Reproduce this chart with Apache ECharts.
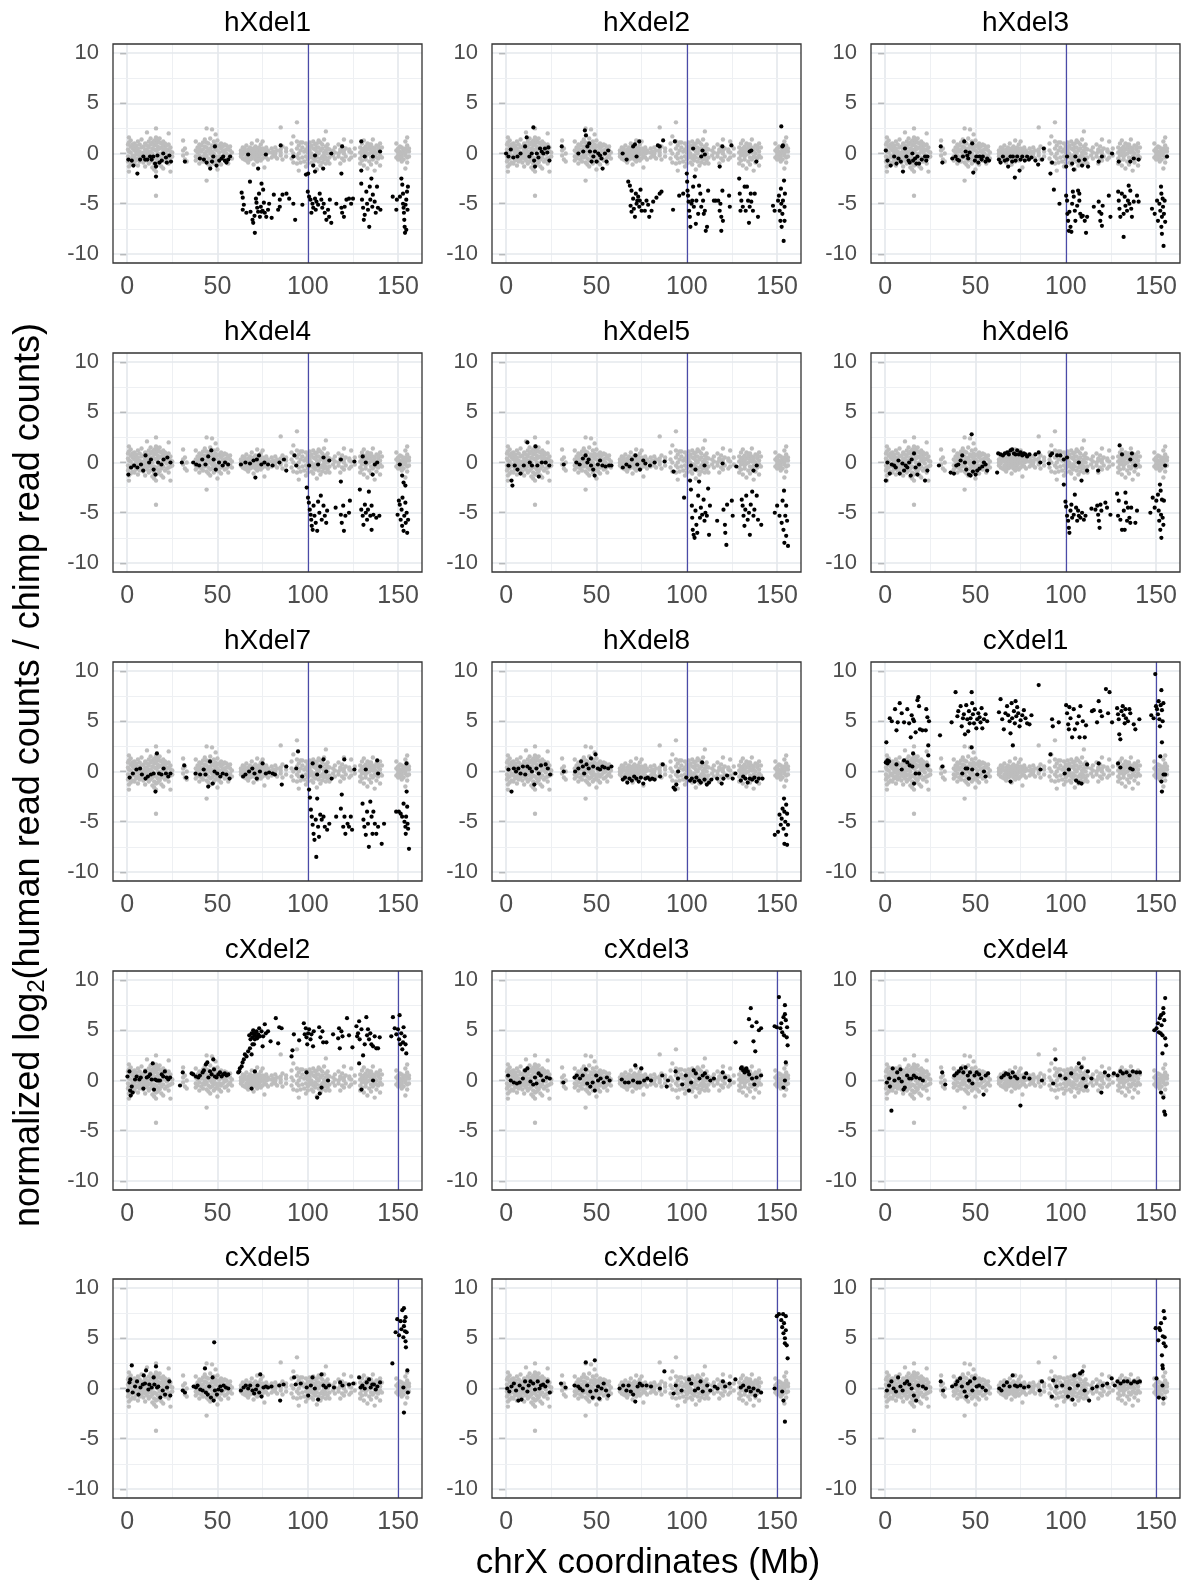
<!DOCTYPE html>
<html lang="en" style="height: 100%">
<head>
<meta charset="utf-8">
<title>chrX read count ratios</title>
</head>
<body style="height: 100%; margin: 0; background: #fff">
<div id="container" style="width: 1184px; height: 1583px"></div>
<script type="text/javascript" src="https://cdn.jsdelivr.net/npm/echarts/dist/echarts.min.js"></script>
<script type="text/javascript">

var panelNames = ['hXdel1', 'hXdel2', 'hXdel3', 'hXdel4', 'hXdel5', 'hXdel6', 'hXdel7', 'hXdel8',
    'cXdel1', 'cXdel2', 'cXdel3', 'cXdel4', 'cXdel5', 'cXdel6', 'cXdel7'];
var breakpoints = [100, 100, 100, 100, 100, 100, 100, 100, 150, 150, 150, 150, 150, 150, 150];
var xTicks = [0, 50, 100, 150];
var yTicks = [-10, -5, 0, 5, 10];
var xMinor = [25, 75, 125];
var yMinor = [-7.5, -2.5, 2.5, 7.5];

// background (gray) points, shared by every panel: [position, [values]]
var grayColumns = [
    [0.5, [0.4, -0.3, 0.9, -0.8]], [1, [1.6, -1.8, 0.2, -0.6, 1.1, -1.3]], [2, [0.7, -0.5, 0.1, -1.1, 1.3]],
    [3, [-0.2, 0.5, -0.9, 0.9]], [4, [0.3, -0.4, 1.0, -1.0, 0.6]], [5, [-0.1, 0.8, -0.7, 0.2]],
    [6, [0.5, -0.5, 1.2, -1.2, 0.0]], [7, [0.2, -0.3, 0.9, -0.8]], [8, [0.6, -0.6, -0.1, 1.4]],
    [9, [0.1, -0.9, 0.7, -0.3]], [10, [0.4, -0.5, 1.0, -1.3, 0.0]], [11, [2.1, 0.3, -0.7, 0.8, -0.2]],
    [12, [0.6, -0.4, 1.2, -1.0, 0.1]], [13, [0.9, -0.8, 0.2, -0.3, 1.5]], [14, [0.5, -0.6, 1.1, -1.4, 0.0]],
    [15, [1.3, -1.0, 0.4, -0.4, 0.8, -1.6]], [16, [2.5, -4.2, 1.0, -1.2, 0.3, -0.5, 1.6, -1.8]],
    [17, [0.7, -0.7, 1.3, -1.1, 0.0, 0.4]], [18, [1.1, -0.9, 0.5, -0.3, 1.5]], [19, [0.6, -0.6, 0.0, -1.3, 1.0]],
    [20, [1.2, -1.5, 0.3, -0.4, 0.8]], [21, [0.5, -0.8, 0.1, 1.0]], [22, [0.8, -0.6, -0.1, 0.3]],
    [23, [2.0, 0.4, -0.5, 0.9, -1.0]], [24, [0.2, -1.8, -0.4, 0.6]], [25, [0.1, -0.3]],
    [31, [1.3, -0.2, 0.3]], [32, [-0.6, 0.5]], [33, [0.0, -0.8]],
    [38, [1.2, -0.3, 0.3, -0.7]], [39, [0.6, -0.5, 0.1]], [40, [0.9, -1.0, 0.3, -0.2, 0.5]],
    [41, [-0.6, 0.2, 0.8]], [42, [1.1, -0.8, 0.4, -0.3]], [43, [0.7, -0.4, 0.0, 1.4]],
    [44, [2.5, -2.7, 0.6, -0.9, 0.2, -0.2, 1.1]], [45, [1.0, -1.1, 0.3, -0.5]], [46, [1.5, -0.7, 0.5, 0.0, -1.3]],
    [47, [2.4, 0.8, -0.6, 0.2, -0.2]], [48, [1.2, -1.0, 0.6, -0.4, 0.0]], [49, [1.9, 0.4, -0.8, 0.9, -0.3]],
    [50, [1.3, -1.6, 0.3, -0.6, 0.7]], [51, [0.8, -0.9, 0.1, -0.3]], [52, [0.5, -0.5, 1.0, -1.1]],
    [53, [0.2, -0.3, 0.7]], [54, [0.9, -0.7, 0.3, -0.1]], [55, [0.4, -0.6, 0.0, 0.8]],
    [56, [0.6, -0.4, -1.0]], [57, [0.3, -0.2, 0.7]], [58, [0.1, -0.5]],
    [63, [0.3, -0.3, 0.0]], [64, [0.6, -0.5, 0.1, -0.1]], [65, [0.2, -0.6, 0.5]],
    [66, [0.8, -0.3, -0.7, 0.1]], [67, [0.4, -0.4, 0.0, -0.9]], [68, [0.6, -0.2, 0.2, -0.6]],
    [69, [1.0, -0.5, 0.3, -0.1]], [70, [0.5, -1.1, 0.1, -0.3]], [71, [0.7, -0.6, 0.2, -0.2]],
    [72, [1.3, -0.4, 0.4, 0.0, -0.8]], [73, [0.6, -0.3, 0.1, -0.6]], [74, [0.9, -0.7, 0.3, -0.1]],
    [75, [1.2, -0.5, 0.5, 0.0]], [76, [0.4, -1.4, -0.3, 0.2]], [77, [0.6, -0.4, 0.0]],
    [78, [0.3, -0.6, 0.1]], [80, [0.5, -0.4, 0.1]], [81, [0.2, -0.2]], [82, [0.6, -0.3, 0.0]],
    [83, [0.3, -0.5]], [85, [2.6, 0.4, -0.2, 0.1]], [86, [0.7, -0.6]], [88, [0.2, -0.3, 0.5]],
    [91, [1.0, -0.5, 0.3]], [92, [1.7, -0.9, 0.0]], [94, [3.1, 1.2, -0.3, 0.5, -1.0]],
    [95, [0.8, -1.7, 0.0, -0.5]], [96, [1.1, 0.3, -0.9]], [97, [0.6, -0.4, 1.1]], [98, [0.2, -0.8]],
    [99, [1.0, -1.3, 0.4, -0.3]], [100, [0.7, -0.6, 0.1, -1.0]], [101, [1.1, -0.4, 0.3, -0.1, 0.6]],
    [102, [0.8, -0.9, 0.0, -0.3]], [103, [1.2, -0.5, 0.5, -1.1]], [104, [0.4, -0.7, 0.9, -0.2]],
    [105, [1.0, -1.6, 0.2, -0.4, 0.6]], [106, [0.6, -0.8, 1.3, 0.0]], [107, [1.1, -0.5, 0.3, -1.2]],
    [108, [0.5, -0.3, 0.9, -0.9]], [109, [1.4, -0.6, 0.1, -0.2]], [110, [2.2, 0.7, -1.0, 0.3, -0.4]],
    [111, [0.9, -0.7, 0.0, 0.5]], [112, [0.4, -0.4, -1.0]], [114, [0.3, -0.2]], [115, [0.6, -0.5, 0.1]],
    [117, [0.9, -0.3, 0.0]], [118, [0.4, -1.0, 0.2]], [119, [0.7, -0.5]], [120, [1.4, 0.3, -0.7, 0.0]],
    [121, [0.5, -0.3]], [123, [0.2, -0.6, 0.4]], [124, [1.2, -0.4, 0.1]], [126, [0.5, -0.2]],
    [129, [0.6, -0.5, 0.1, -1.0]], [130, [1.0, -0.7, 0.3, -0.2]], [131, [1.3, -1.2, 0.5, 0.0]],
    [132, [0.7, -0.6, 0.2, -0.3]], [133, [1.0, -1.5, 0.4, -0.1]], [134, [0.6, -0.8, 0.0, 0.9]],
    [135, [0.9, -1.1, 0.3, -0.4]], [136, [1.4, -0.6, 0.1, 0.6]], [137, [0.5, -1.7, -0.3, 0.2]],
    [138, [0.8, -0.9, 0.0, -0.4]], [139, [0.4, -0.5, 0.7]], [140, [1.0, -1.2, 0.2, -0.2]],
    [141, [0.6, -0.4]], [149, [0.3, -0.4, 1.0]], [150, [0.5, -0.2, 0.1, -0.6]],
    [151, [0.2, -0.5, 0.7, -0.1]], [152, [0.6, -0.3, 0.0, -0.8]], [153, [0.3, -0.6, 0.4, 0.1]],
    [154, [1.2, -1.5, 0.5, -0.2, 0.0]], [155, [1.6, 0.3, -0.4, 0.8, -0.9]], [156, [0.2, -0.3, 0.5]]
];

var hXdel1 = [[0.7,-0.6],[2.6,-0.7],[3.5,-1.2],[5.7,-2.0],[7.2,-0.6],[9,-0.3],[10,-0.6],[11.2,-0.6],[12.7,-0.3],[13.6,-0.6],[14.5,-0.3],[15.5,-1],[16,-1.3],[16,-2.3],[16.8,-0.2],[17.9,-0.9],[19.2,-0.7],[20,0],[21.5,-0.4],[22,-0.9],[23.4,-0.2],[24.3,-0.8],[32,-0.8],[40.3,-0.5],[42.5,-0.6],[44,-0.9],[46,-1.5],[47,-0.8],[47.7,-0.3],[48.6,0.7],[49.5,-1.2],[51,-0.7],[52.3,-0.5],[53.2,-0.3],[54.1,-0.7],[55,-0.9],[56,-0.6],[57,-0.3],[67,-0.1],[72.5,-1.5],[76.8,-0.1],[85,0.8],[92,-0.3],[99,-2.1],[100.2,-2],[104,-0.2],[103,-1.2],[104,-1.8],[108.5,-1.5],[113,0],[118.6,-2],[119,0.7],[129.6,1.2],[129.6,-1.7],[131.5,-0.3],[136,-0.3],[140,0.2],
    [63.4,-3.9],[64,-4.4],[64,-5.6],[64.6,-5.1],[66,-5.9],[68,-2.8],[68.3,-5.8],[69.4,-6.6],[69.8,-6.9],[70.5,-6.2],[70.7,-7.9],[71.3,-4.5],[71.6,-4.9],[72,-5.4],[72.5,-5.8],[73,-4],[73.5,-6.3],[74,-5.3],[74.4,-3],[74.4,-5.8],[75,-5.7],[75.3,-3.6],[75.7,-4.9],[76.2,-5.9],[77,-6.3],[78,-5.6],[78.6,-5],[80,-6.4],[81.2,-4.1],[83.6,-5.6],[84.5,-4.6],[84.5,-5.3],[86,-4.1],[88.2,-4],[89.7,-4.5],[92,-5],[93,-6.6],[97,-5.1],
    [100,-3.8],[100.7,-4.3],[101.5,-4.6],[102,-5.9],[102.6,-5],[103,-5.4],[104,-4.5],[104.4,-5.6],[104.8,-4.8],[105.7,-5.1],[106.6,-4],[107.5,-4.6],[108,-5.4],[108.8,-5],[109.4,-5.9],[110.3,-6.6],[111.2,-5.6],[111.8,-6.3],[112.2,-4.6],[113,-6.9],[115.8,-5],[118.6,-5.4],[119,-5.9],[120,-6.3],[120.4,-5.3],[121.4,-4.6],[122.8,-4.5],[124,-5],[125,-4.5],
    [129.6,-3],[130,-4.6],[130.6,-5.4],[131,-6.6],[131.5,-6.1],[132.4,-3.8],[132.8,-5],[133.3,-5.6],[134,-7.3],[134.3,-3.3],[134.6,-4.6],[135.2,-2.5],[135.7,-5.3],[136,-4.1],[137,-4.8],[137.6,-5.9],[138.3,-3.3],[138.8,-5.4],[140.2,-5.6],
    [147,-4.3],[149,-5.6],[149.3,-4.6],[151,-4.3],[151.8,-2.5],[152.3,-3.1],[152.7,-4],[152.7,-5],[153,-5.4],[153.2,-5.9],[153.4,-6.6],[153.6,-7.3],[153.8,-7.9],[154.1,-5.1],[154.5,-4.6],[154.9,-3.8],[155.2,-5.6],[155.4,-3.3],[154.5,-7.6]];

var hXdel2 = [[0,0],[1.3,-0.3],[2.6,0.4],[4,-0.4],[6.3,-0.3],[8,0],[10.5,0.7],[11.4,1.6],[12.9,-0.3],[14.2,0],[15.1,2.6],[15.5,-0.7],[16,-1.3],[17,0],[17.9,-0.4],[18.8,0.5],[19.7,0.2],[20.6,0],[21.5,0.5],[22.8,0.1],[24,-0.7],[23.4,0.6],[30.8,0.7],[40,0],[42.7,0.2],[43.6,2.3],[44.2,1.8],[45,0.7],[46,1],[46.4,0.2],[47.3,-0.8],[48.3,-0.3],[49.2,0.2],[50.1,-0.8],[51,0],[52,-0.2],[52.8,-0.5],[53.4,-1.5],[54.7,0],[55.6,-0.8],[56.5,0.3],[64.5,0],[66.7,-0.6],[70.3,0.7],[71.3,0.9],[72.2,-0.3],[73.7,1.2],[84,0.8],[85,0.7],[86.9,1.3],[93.4,1.2],[103.5,0.5],[108,-0.3],[108.7,0.3],[110,-0.1],[118.2,-1.3],[119.7,0.7],[124.7,0.8],[134.8,0.2],[135.7,0.3],[138.5,-0.8],[152.3,2.7],[152.9,0.7],[153.2,0.8],
    [67.6,-2.8],[68.5,-3.2],[69.4,-3.7],[68.9,-5.2],[69.4,-5.8],[70.3,-4.5],[70.7,-5.5],[71.3,-6.3],[71.8,-4],[72.2,-5],[72.6,-4.7],[73.1,-4.3],[73.7,-5.3],[74,-4.7],[74.4,-3.6],[75,-5.7],[75.5,-5],[76.8,-5.7],[77.7,-4.7],[78.6,-5.1],[79.2,-6.3],[80.5,-5.7],[81.4,-4.8],[83.2,-4.4],[85,-4],[86,-3.8],[92.4,-5.6],[95.8,-4.2],[98,-4],
    [100,-2],[100.2,-2.8],[100.4,-3.7],[100.7,-4.2],[101,-4.8],[101.3,-5.7],[101.7,-6.3],[102,-7.3],[102.6,-5],[103,-4.7],[103.5,-3.3],[103.9,-5.3],[104.4,-2.3],[105,-7],[105.3,-4.7],[106.3,-6],[106.8,-3.2],[107.5,-4],[108,-5.3],[109,-4.7],[109.4,-6],[110,-5.7],[110.5,-7.7],[111.2,-7.3],[111.8,-3.7],[115,-4.7],[116,-4.7],[117.4,-4.7],[118.2,-5.7],[118.6,-5],[119.1,-6.3],[119.1,-7.7],[119.7,-3.7],[120,-6.7],[123.4,-4.2],[123.8,-5.3],
    [129,-2.5],[129.3,-4],[129.7,-5.7],[130.2,-4.7],[131,-5.3],[132,-3.3],[132.6,-5.7],[133.3,-3.3],[133.9,-4.7],[134.4,-6.9],[134.8,-5.3],[135.4,-4],[135.7,-4.8],[136.6,-5.7],[137.6,-4],[139.4,-6.3],
    [147.7,-5.2],[148.6,-5.7],[150.5,-4.7],[151,-4.2],[151.4,-5.7],[151.8,-6.7],[152.1,-3.5],[152.3,-5],[152.5,-7.3],[152.9,-6],[153.2,-4.7],[153.6,-8.7],[153.8,-2.7],[154.1,-5.3],[154.3,-4],[154.1,-6.7]];

var hXdel3 = [[0.4,0.3],[1.3,-0.7],[3.1,-1.2],[5,-0.3],[6.3,-1],[7.4,-0.5],[8.7,-0.8],[9.9,-1.8],[11,0.5],[11.8,-0.3],[13,-0.7],[13.6,-0.9],[15.1,0],[15.5,-0.7],[16.6,-0.5],[17.3,-1],[17.9,-0.3],[18.8,-1],[20.3,-0.6],[22.1,-0.3],[22.8,-0.7],[23.4,-0.3],[30.8,0.7],[31.7,-0.9],[37.2,-0.5],[39,-0.3],[40,-0.6],[40.9,-0.7],[43.1,-0.3],[43.8,1.2],[44.6,0.2],[45.5,-0.2],[46,-0.5],[46.8,0.1],[48.2,1],[48.8,-1.9],[49.7,-0.7],[50.5,-0.3],[51.6,-0.9],[52.3,-0.3],[53.4,-0.6],[54.1,-0.3],[55.6,-0.8],[56.5,-0.5],[57.5,-0.7],
    [63,-0.6],[63.9,-0.9],[65.2,-0.3],[66.3,-0.7],[67.6,-0.6],[68.1,-1.3],[69.4,-0.3],[70.3,-0.8],[70.7,-0.3],[71.8,-2.4],[72.2,-0.7],[73.1,-0.3],[74.4,-1.7],[75,-0.6],[75.9,-0.3],[77.3,-0.7],[78.6,-0.3],[79.6,-0.6],[81,-0.4],[83.2,-0.7],[84.7,-1.1],[86.9,-0.6],[87.8,0.5],[91.5,-2],[93.4,-3.6],[92.4,-0.9],[96.5,-5],[100.2,-1.3],[100.7,-0.3],[103.5,-1],[104.4,-1.6],[105.3,-0.3],[107.2,-0.7],[109,-1.2],[110.5,-0.6],[112.3,-1.3],[118.2,-0.8],[120,-0.3],[125.6,0],[129.3,-0.8],[135.7,-0.8],[137.6,-0.5],[140.3,-0.6],[156,-0.3],
    [100.2,-4.2],[100.7,-4.7],[100.9,-6],[101.3,-6.7],[101.7,-7.7],[102,-5.8],[102.6,-7.3],[103.1,-7.8],[103.5,-5],[103.9,-3.8],[104.4,-4.3],[105,-5.7],[105.3,-6.7],[106.3,-5.2],[106.8,-3.7],[107.5,-4],[107.5,-4.7],[108,-6],[108.7,-6.3],[109.4,-6.2],[110.5,-6.7],[111.2,-7.9],[111.8,-6.3],[115.5,-5.3],[118.2,-4.8],[118.6,-5.8],[119.1,-6.7],[119.7,-6],[120,-7.2],[120.4,-5.2],[123.8,-4.2],[124.7,-6.3],
    [129,-3.8],[129.3,-4.7],[129.7,-5.5],[130.2,-6.3],[131,-4],[132,-6],[132,-8.3],[132.6,-4.3],[133,-5.2],[133.9,-5.7],[134.4,-4.7],[134.8,-3.2],[135.2,-5],[135.7,-3.7],[136.2,-5.5],[136.6,-6.3],[137.6,-4.8],[139.4,-4.2],[140.3,-4.8],
    [147.7,-5.5],[149.2,-6],[150.5,-4.7],[151,-6.7],[151.8,-5],[152.3,-5.7],[152.7,-3.3],[152.9,-4],[152.9,-7.3],[153.2,-8],[153.2,-6.3],[153.6,-4.5],[153.8,-5.3],[154.1,-9.2],[154.3,-6],[154.7,-4.7],[155,-6.8]];

var hXdel4 = [[0.7,-1.2],[2.2,-0.5],[3.9,-0.3],[5.7,-0.5],[7.7,-0.2],[8.9,-0.8],[10.2,0.7],[12.2,0],[13.2,0.3],[14.7,-0.7],[15.7,-1.2],[17.2,0],[19,-0.2],[20.2,0.3],[22.3,0.5],[24,0],[30.3,0],[36.6,0],[38.3,-0.2],[39.9,-0.3],[41.6,0.3],[43.4,-0.2],[44.9,0.6],[46.6,1.2],[47.9,0.3],[49.1,-0.7],[50.9,0],[52.9,-0.3],[54.2,0],[55.9,-0.2],
    [63,-0.2],[65.5,0],[68,-0.1],[70,0.2],[71,-1.5],[71.8,0.3],[73,0.7],[74.3,-0.2],[76,0],[78,-0.2],[80.5,-0.3],[84.3,0],[86.8,0.3],[88.1,-0.8],[92.6,0.7],[93.6,-0.3],[100.7,-0.3],[105.7,-0.2],[108.7,0.5],[111.9,0.2],[118.3,0.3],[118.3,-1.9],[125.8,0.1],[130.4,0.6],[132.1,0],[135.9,-1.2],[137.1,-0.2],[138.4,0],[150.9,-0.2],[152.2,-1.3],[153,-2],[154,-2.3],
    [99.4,-2.5],[100.1,-3.5],[100.6,-4],[101.1,-4.7],[101.6,-5.2],[101.9,-5.7],[102.2,-6.3],[102.7,-6.7],[103.2,-4.3],[103.7,-5.3],[104.4,-6],[105.2,-6.8],[105.7,-3.9],[106.4,-5],[107.2,-3.3],[107.7,-5.7],[108.7,-4.3],[109.4,-5.3],[110.2,-6],[110.7,-4.8],[115.4,-4.5],[118.3,-5.2],[118.8,-6],[119.6,-4.3],[120,-6.8],[120.8,-5.3],[122.8,-5],[123.3,-3.8],
    [128.8,-2.7],[129.6,-4.7],[130.4,-5.3],[130.8,-6.2],[131.6,-4.2],[132.1,-5],[132.8,-5.7],[133.3,-4.7],[133.8,-2.9],[134.6,-5.3],[135.3,-4.3],[135.3,-6.7],[136.3,-5.2],[137.9,-5.5],[139.6,-5.3],
    [149.7,-5.2],[150.4,-3.8],[150.9,-4.2],[151.4,-5.7],[151.9,-4.7],[152.2,-6.3],[152.4,-3.5],[153,-6.8],[153.4,-5.3],[154,-4],[154.2,-6],[154.7,-5],[155,-7],[155.5,-5.7]];

var hXdel5 = [[1.3,-0.3],[3,-1.8],[3.5,-2.3],[4.8,-0.3],[6.3,-0.7],[8,-1.1],[9.8,-0.3],[11.8,2],[13.1,0],[14.3,-0.3],[16.3,1.6],[17.3,-0.3],[18.1,-1.4],[19.8,0],[21.9,0],[23.9,-0.3],[31.9,-0.2],[38.9,0],[40.7,-0.2],[42.5,0.4],[44,0.7],[45,0],[45.7,0.3],[47,-0.3],[48.2,-0.7],[49,-1.3],[50.8,-0.2],[52,0.2],[53.3,-0.3],[55,-0.4],[57,-0.3],[58.3,-0.3],
    [64.6,-0.5],[66.6,-0.2],[68.3,-0.4],[69.6,0.3],[71.6,0.7],[72.6,-0.2],[74.1,-0.7],[75.9,0.2],[77.1,-0.1],[79.6,-0.3],[82.2,0],[87.7,0.1],[92.7,-0.9],[98.5,-3.5],[102.3,-0.3],[104.8,-0.7],[106.8,-1.9],[109.8,-0.3],[119.8,-0.1],[127.4,-0.4],[136.9,-0.8],[138.7,-0.3],
    [101.8,-1.8],[102.3,-2.7],[102.8,-4.3],[103,-5.5],[103.3,-6.7],[103.8,-7.2],[104.3,-7.5],[104.8,-4.8],[105.3,-6.2],[105.8,-7],[106.3,-3.3],[107.3,-5.5],[107.8,-4.5],[108.5,-5.2],[109.3,-3.7],[109.8,-5.8],[110.3,-5],[111.1,-5.3],[111.8,-2.6],[112.3,-7.2],[112.8,-4.3],[116.8,-5.8],[120.3,-4.7],[121.1,-6.2],[121.3,-7],[121.9,-8.2],[122.3,-4.2],[124.9,-3.8],[125.4,-5.3],
    [130.4,-3.7],[130.9,-4.3],[131.4,-5.3],[131.9,-6.3],[132.4,-4.7],[132.9,-3.3],[133.7,-5.7],[134.4,-5],[134.9,-7.2],[135.4,-4.2],[136.2,-2.9],[136.9,-5.3],[137.4,-4.7],[138.7,-3.3],[139.4,-5.7],[141.2,-6.2],
    [148.7,-5],[150,-4.3],[151.3,-5.3],[152.5,-6],[153,-3.8],[153.5,-6.7],[153.8,-2.8],[154,-8],[154.5,-5.3],[155,-4.3],[155,-7.3],[155.5,-5.8],[156,-8.3]];

var hXdel6 = [[0.4,-1.8],[1.3,0],[2.6,-1.1],[3.7,-0.2],[5,-0.3],[5.9,-0.5],[7.4,0.2],[8.1,-1.1],[9.6,-0.1],[10.5,-0.8],[11.4,-0.3],[12.3,-0.5],[13.3,0],[14.2,-1.3],[14.7,0.3],[16,0.9],[16.9,-0.5],[17.9,-1.2],[18.8,-0.2],[22.1,-1.8],[23.4,-0.8],[29.8,-0.3],[36.3,-1],[38.1,-1.1],[39.4,-0.3],[40.5,-0.2],[41.8,0.2],[42.7,0.7],[44.2,0],[44.9,-0.7],[46.4,-1.2],[47.3,-1.3],[47.9,2.8],[48.6,-0.9],[49.2,0],[50.1,-1.2],[51,-0.8],[52.3,-0.6],[53.8,-0.4],[54.7,0],[55.6,-0.2],[56.5,-0.8],
    [62.6,0.9],[63.9,0.8],[65.2,0.7],[66.3,0.9],[67.6,1],[68.5,0.8],[69.4,1.2],[70.3,1.3],[71.3,0.9],[72.2,0.8],[73.1,1.2],[74,0.8],[75,1],[75.9,0.7],[76.8,0.9],[77.7,0.8],[78.6,0.6],[79.9,0.8],[62,-1],[83.2,0.8],[85,1],[85.9,0],[90.6,-0.1],[91.5,0.7],[92.4,0.9],[95.2,0.7],[97,0.7],[98.9,0.3],[100.7,0.5],[107.2,0],[111.8,-0.8],[117.9,-0.8],[129.8,1.7],[131.1,0.8],[135.7,0.3],[136.6,0.9],[138.5,-0.3],[155,-0.3],
    [98.9,-2.2],[99.8,-3.9],[100.2,-4.4],[100.7,-5.3],[101.3,-5.8],[101.7,-6.5],[102,-7],[102.6,-4.8],[103.1,-4.2],[103.5,-5.5],[104.4,-5.2],[105,-3.2],[105.7,-4.5],[106.3,-5.8],[106.8,-4.8],[107.2,-5.3],[108.1,-5.5],[108.7,-1.8],[109,-5],[110,-5.7],[110.9,-5.3],[114.2,-4.6],[116.4,-4.7],[117.4,-4.3],[117.9,-5.2],[118.3,-5.8],[118.7,-6.5],[119.2,-4.2],[119.7,-4.8],[121.9,-4],[122.8,-4.5],[124.7,-5.2],
    [128.4,-3.1],[128.9,-5.3],[129.3,-3.8],[130.2,-5.7],[131.1,-6.7],[132.1,-4.8],[132.6,-6.7],[133,-3],[133.3,-4],[133.9,-5.8],[134.4,-4.5],[135.2,-5.5],[135.7,-6],[136.2,-4.5],[138.5,-6],[139.4,-4.8],
    [146.8,-5],[148.1,-3.5],[149.2,-4.5],[150.1,-3.8],[151,-3.2],[151.4,-4.8],[151.7,-5.8],[152.1,-2.2],[152.3,-6.7],[152.5,-2.8],[152.7,-5.2],[152.9,-7.5],[153.2,-3.7],[153.6,-5.5],[154,-6.2],[154.3,-3.8]];

var hXdel7 = [[1.4,-0.6],[3.2,-0.2],[5.2,0.2],[7.2,0.3],[8.2,-0.3],[10.2,-0.7],[11.5,-0.5],[13.2,-0.3],[14.7,-0.2],[15.7,-2],[16.5,1.8],[17.7,-0.2],[19,-0.3],[20.2,0.3],[21.5,-0.2],[22.8,-0.5],[24,-0.2],[31.6,0.6],[32.8,-0.6],[37.9,-0.2],[40.4,-0.3],[42.4,0.2],[43.4,-0.3],[44.9,-1.5],[45.9,1],[47.4,-1.2],[48.4,0],[49.9,-0.2],[51.6,-0.5],[52.9,-0.2],[54.9,-0.3],[56.7,-0.7],
    [64.2,-0.5],[65.5,-0.3],[67.5,0],[69.3,0.3],[70.5,-0.2],[71.8,-0.7],[73.5,0],[75,0.8],[76.8,-0.2],[78.6,-0.1],[80.6,-0.2],[81.8,-0.3],[85.6,-1.3],[88.1,0.5],[93.6,0.3],[94.6,2],[96.9,-0.5],[102.7,0.8],[105.2,-0.3],[106.9,0.5],[108.7,1.2],[110.2,0],[113.2,-0.7],[120.2,1.2],[125.8,0.2],[132.1,0.2],[138.4,1.1],[138.9,-0.2],[154.6,0.8],
    [100.7,-1.8],[101.2,-2.6],[101.7,-3.8],[102.2,-4.5],[102.7,-5.3],[103.2,-6.2],[103.7,-6.8],[104.4,-4.8],[104.7,-8.5],[105.2,-2.7],[105.7,-5.5],[106.2,-6.5],[106.9,-4.3],[107.7,-4.8],[108.7,-4.5],[109.4,-5.5],[110.7,-5.8],[111.9,-5.2],[115.7,-4.5],[118.3,-3.7],[118.8,-2.3],[119.6,-5.5],[120.3,-4.5],[120.8,-6.2],[122,-5.2],[122.8,-5.5],[123.8,-4.5],[124.5,-5.8],
    [130.3,-3.2],[130.8,-4.8],[131.3,-5.5],[132.1,-6.3],[132.8,-4],[133.3,-5.2],[133.8,-7.5],[134.6,-3],[135.3,-4.5],[135.8,-6.2],[136.3,-4],[137.1,-5.2],[137.9,-6.2],[138.9,-5.5],[140.9,-7.2],[142.2,-5.2],
    [148.9,-4],[150.4,-4],[151.4,-4.2],[152.2,-4.5],[153,-3.2],[153.5,-5],[154,-5.5],[154.2,-6.2],[154.7,-2],[155,-3.5],[155.5,-5.7],[156,-7.7],[154.4,-4.5],[155.2,-5.2]];

var hXdel8 = [[1.3,0.2],[3,-2],[4.3,0.3],[5.5,0],[6.8,0.3],[8,-0.2],[9.3,0.5],[10.6,-0.3],[11.8,0.5],[13.1,0.3],[14.3,0],[15.6,-1.3],[16.8,0.3],[18.1,-0.2],[19.3,0.6],[21.9,0.7],[23.1,0.3],[24.4,-0.3],[31.9,0],[38.2,0],[40,0.3],[41.5,1],[42.5,0.5],[43.2,-0.2],[44.5,0.7],[45.7,0.3],[47,1.3],[48.2,0.5],[49.5,1.7],[50.8,0.3],[52,0.2],[53.3,0.5],[54.5,0.4],[56.5,0.3],[58.3,0.5],
    [64.6,-0.8],[65.8,-0.6],[67.1,-1.1],[68.3,-0.7],[69.6,-0.9],[70.9,-0.5],[72.1,-0.7],[73.4,-1],[74.6,-0.6],[75.9,-1.2],[77.1,-0.7],[78.4,-0.6],[79.6,-0.8],[80.9,-0.7],[82.2,-0.8],[85.2,-0.5],[86.7,0.7],[92.7,-1.6],[93.5,-1.8],[94.2,-1.3],[95.2,0],[99.7,-0.6],[101.8,-0.9],[102.8,-0.7],[104.3,-1],[105.3,-0.6],[106.8,-0.9],[107.8,-1.1],[108.5,0.9],[109.8,-0.8],[111.1,-1.3],[112.3,-1.1],[113.6,-0.8],[116.8,-0.7],[119.3,-1.2],[120.3,-0.7],[122.3,-0.4],[125.4,-0.7],[126.9,-0.2],[129.9,-0.9],[131.2,-0.5],[132.4,-0.7],[133.7,-1.1],[134.9,-0.7],[136.2,-0.8],[137.4,-0.6],[138.7,-1],[139.9,-0.7],[141.9,-0.7],
    [148.7,-6.3],[150.5,-6],[151.3,-4.3],[152,-5.3],[152.5,-4.7],[153,-3.7],[153.5,-5.7],[153.8,-2.7],[154,-7.2],[154.5,-5],[155,-3.3],[155,-6.3],[155.5,-4.2],[156,-5.3],[155.5,-7.3],[154,-4]];

var cXdel1 = [[0.7,2.9],[1.3,1.1],[1.8,1],[2.6,5.3],[3.7,5],[5.5,6.2],[6.3,4.1],[7,4.9],[8.1,6.8],[9.2,5.8],[10.5,4.9],[12.3,6.2],[13.3,4.8],[14.2,3.4],[14.7,5.6],[15.5,5.2],[16,5],[16.9,3.9],[17.9,7.1],[18.4,7.4],[18.8,6.5],[19.3,4.2],[20.6,4.1],[22.5,4.1],[22.8,6.2],[23.4,5.4],[23.9,2.6],[24.3,5],[30.4,3.6],
    [36.8,4.9],[39,7.9],[40,5.5],[40.5,6],[41.8,6.5],[42.4,4.5],[43.1,5.3],[43.6,5.7],[44.2,3.7],[44.9,6.6],[45.5,5.2],[46,4],[46.4,6],[46.8,4.8],[47.3,5.3],[47.9,7.9],[48.2,6.8],[48.6,5.7],[49.2,4.8],[49.7,6.2],[50.5,4.3],[51,5.2],[51.6,5.8],[52.3,5.4],[52.8,4.9],[53.4,6.3],[53.8,4.3],[54.7,5.2],[55.6,5.7],[56.5,5],
    [63,5.9],[63.9,7.2],[64.8,5.2],[65.7,4.2],[66.6,5.8],[67.5,6.5],[68.1,5.6],[68.9,5],[69.4,3.8],[70,6.8],[70.3,5.3],[70.7,2.6],[71.3,6],[71.8,4.8],[72.2,7],[72.6,5.5],[73.1,6.4],[73.7,5.8],[74.4,4.5],[75,5.1],[75.9,5.6],[76.8,6.1],[77.7,5.3],[78.6,4.8],[79.9,4.7],[81,5.6],[85,8.6],[92.4,5.2],[92.8,4.5],[96.1,4.9],
    [100.2,6.6],[100.7,5.8],[101.3,4.7],[101.7,4.2],[102,6.4],[102.6,5.3],[103.5,3.4],[104.4,6.2],[105,4.2],[106.3,4.8],[107.2,5.5],[107.6,3.4],[108.1,6.5],[109.4,5],[110.5,3.4],[111.2,4.6],[114.5,6],[115.5,6.1],[117.3,4.9],[118.2,7],[119.1,6],[120,5.5],[122.2,8.2],[123.4,5.8],[124.2,7.9],[125.6,4.9],
    [128.4,6.3],[128.9,5.7],[129.3,5.2],[129.6,3.7],[130.2,3.2],[130.8,6],[131.5,6.5],[132,5.6],[132.6,4.8],[133,6.2],[133.3,5.3],[134.4,5],[135.2,6.2],[135.7,5.8],[137.6,4.7],[138.5,4.2],[140.7,5.2],
    [147.3,5.6],[148.6,5.3],[149.5,9.7],[149.9,6.5],[150.5,6.2],[151,5.7],[151.4,7],[151.8,5.2],[152.1,4.5],[152.5,6.6],[152.9,8.1],[153.2,6.1],[153.6,5],[154,6.8],
    [0.4,0.9],[1.3,0.8],[2.2,1],[6.3,0.7],[9.2,0.2],[10.5,1.1],[12.3,0.9],[13.6,0.6],[15.1,0.5],[15.5,1.8],[16,-1.2],[16.9,-0.2],[18.8,-0.2],[23.4,0.6],[23.9,1.6],[31.7,0.5],[42.7,-0.2],[44.6,0.3],[45.5,0.3],[46.4,-0.7],[47.9,2.4],[48.2,0.2],[51,-0.3],[54.7,0],[55.6,-0.5],[69.4,-1],[86,0.2],[91.5,1.7],[99.4,-0.2],[101.7,0.2],[105.7,-0.9],[107.2,-1.1],[108.7,-1.2],[111.8,0.7],[118.2,0.8],[128.9,0.8],[130.2,0.4],[135.7,0.3],[137,0.2],[152.3,1.5],[152.9,-1],[153.2,-2],[154.1,-0.3],[153.2,2.9],[155,-0.3]];

var cXdel2 = [[0.2,0.4],[1.3,0.9],[1.7,-1],[2,-1.5],[2.6,-0.6],[3.1,-1.2],[4.4,0.1],[5.3,0.4],[6.8,0.1],[7.6,0.3],[9,-0.8],[10,0.9],[10.9,0.3],[11.8,0.4],[12.7,0.6],[13.6,0.1],[14.2,1.7],[14.9,-0.9],[15.5,0.1],[16.4,0],[17.3,0],[18.2,0],[19.2,0.6],[20,0.4],[20.9,0.9],[21.9,0.3],[22.8,0.1],[23.8,0.3],[29.3,-0.5],[30.8,0.8],[35.7,0.7],[36.6,0.6],[38.1,0.4],[39.4,0.3],[40.3,0.5],[41.8,0.8],[42.5,1],[43.6,1.6],[44.4,1.8],[45,0.3],[45.9,0.9],[46.8,0.6],[47.7,2.1],[48.1,1.1],[48.6,0.4],[49.5,0.3],[50.5,0.6],[51.4,0.8],[52.3,0.4],[53.2,0.6],[54.1,0.7],[55.1,0.5],[56,0.6],
    [61.5,0.8],[62.1,0.9],[62.4,1.2],[63.4,1.4],[63.9,1.8],[64.6,2.1],[65.2,2.6],[66.1,2.4],[67,2.9],[68,3.2],[68.9,2.6],[69.4,3.6],[70.2,3.6],[70.7,4.1],[67.6,4.5],[68.3,4.1],[68.9,4.7],[69.4,4.3],[69.8,5],[70.2,4.6],[70.7,4.7],[71.3,4.4],[71.6,4.9],[72,4.2],[72.6,4.6],[73.1,5.2],[73.5,4.4],[74.4,4.9],[75,3.4],[75.3,4.4],[76.2,5.6],[76.8,4.7],[78,4.9],[79.4,3.9],[82.3,6.2],[83.6,3.7],[84.2,5.3],[85.5,5.2],[68.9,-0.8],[70.7,0.9],
    [91,2.4],[91.5,3],[92.3,4.6],[95.2,4],[97.8,5.7],[98.3,4.6],[98.9,5.2],[99.3,4.3],[99.7,3.6],[100.2,4.7],[100.7,5.1],[101.5,4.1],[102,4.6],[102.9,3.4],[103.3,4.9],[106.3,5.3],[107,4.3],[108.1,4.9],[108.5,3.8],[110.3,3.8],[114,4.6],[116.8,4.2],[117.3,5.2],[117.7,3.2],[118.6,4.9],[119.2,4.4],[121.7,6.2],[122.8,4.5],[124.7,3.3],
    [126.9,5.4],[127.3,4.4],[127.8,4.7],[128.4,5.9],[128.7,4.1],[129.7,5.1],[130.6,2.5],[131.5,3.6],[132.4,6.3],[132.8,4.5],[133.3,5.1],[133.9,4.1],[134.6,4.7],[135.2,3.6],[136.1,3.4],[137,4.4],[137.9,3.2],[138.9,3.2],[139.8,4.3],
    [146.2,4.4],[147.1,6.3],[148.1,5.2],[149,4.6],[149.9,5.1],[150.5,4.1],[150.8,6.5],[151.2,3.6],[151.7,4.7],[152.3,3.1],[152.7,3.8],[153,5.3],[153.6,4.4],[154.1,3.6],[154.5,2.7],
    [99.3,0.8],[105.2,-1.7],[106.6,-1.3],[107.6,-0.7],[111.2,0],[129.7,-0.9],[128.4,1.7],[136.1,0]];

var cXdel3 = [[1.1,0.5],[2.6,0],[4.3,-0.2],[6,-0.3],[7.5,-0.2],[9.3,0.2],[10.5,1],[11.8,1.2],[13.5,-0.1],[15,-0.4],[16,0.3],[16.8,-0.3],[18,0.7],[19.2,0.5],[20.5,0],[22.5,0.3],[24.2,0.2],[31.7,-0.2],[37.9,0.3],[39.1,0.5],[40.9,0.2],[42.4,0.5],[44.1,1.1],[44.9,-0.3],[46.6,-0.6],[47.9,-0.2],[49.1,-1],[49.9,0.5],[50.9,0],[52.3,0.2],[54,-0.2],[55.8,0.3],[57.3,0],
    [64,0.1],[65.8,-0.2],[67.8,-0.2],[70.3,0],[71.5,1.5],[72.8,-0.2],[74,-0.2],[74.8,1.2],[76.4,0],[78.2,0.2],[80.2,0],[86.4,0.5],[88.9,-0.6],[89.6,0],[93.8,0.9],[95.1,0.2],[97.5,-0.4],[99.5,0.5],[101.2,-1],[102.4,-0.2],[103.8,1],[105,0.7],[107,0.2],[108.8,0.5],[110,0.7],[111.3,0.3],[113,0],[115,0.2],[119.9,0.8],[121.2,0.3],[123.7,0],
    [130,1.2],[130.4,1.3],[131.2,1],[132,0.8],[132.5,1.1],[133,1.2],[133.8,0.9],[134.5,0.6],[136.1,0.2],[137.4,-0.4],[138.6,0.3],[141.1,0.5],[153.5,-0.7],[154.3,0],
    [127,3.8],[134.4,6.1],[135.4,7.2],[136.1,5.4],[136.9,3.9],[137.9,2.9],[138.6,5.8],[139.9,5],[141.1,5.2],
    [148.6,5.4],[149.8,5.3],[151,8.3],[151.8,5.2],[152.3,5.7],[152.8,4.8],[153.5,6.3],[153.8,4.5],[154.3,7.5],[154.8,6],[155.3,4.3],[155.8,3.5],[154.8,1.8],[154.3,6.6],[155.5,5.3]];

var cXdel4 = [[1,-0.2],[2.2,0.2],[2.7,-0.6],[3.5,-3],[4.2,1.2],[5.2,0],[6.7,0.8],[7.7,0.2],[8.5,1.1],[9.2,-0.1],[10.2,-0.9],[10.9,-0.7],[12.2,0.5],[13.4,0.2],[14.7,0.2],[15.9,0.5],[17.2,0.3],[19.2,0.2],[20.9,0],[31.6,0.8],[33.3,-0.4],[38.3,0.5],[39.6,0.7],[40.8,0.9],[42,1.2],[43.3,0.8],[44.5,1.3],[45.8,0.5],[46.5,0],[47,0.8],[48.3,-0.3],[49.5,0.5],[50.7,0.8],[52,0.6],[53.2,0.2],[54.5,-1.4],[55.7,0.5],[57,0.7],
    [64.4,0.3],[65.7,0.5],[66.9,0.7],[68.2,0.6],[69.4,0.3],[70.6,0.8],[71.9,0.4],[73.1,0.2],[74.9,-2.5],[76.9,0.3],[78.1,0.7],[79.9,0.2],[86.8,0],[93,-0.3],[94.3,2.1],[96.8,0.5],[99.8,0.2],[103,0.7],[107.2,1.7],[108.7,1.3],[109.7,0.2],[111.2,-0.6],[112.2,0.9],[114.2,0.2],[119.7,-1.2],[121.6,0.8],[123.6,0.5],[126.6,0.7],[128.6,0.5],[130.3,0.9],[131.6,0.7],[133.6,0.8],[135.3,0.5],[137.1,0.9],[139.1,0.8],[141,0.8],
    [152.7,-1.2],[154,-1.7],[154.5,-3.1],[155,-3.4],
    [149,5],[150.2,5.2],[151,5.7],[151.5,4.8],[152,6.2],[152.5,4.7],[152.7,6.5],[153,5.5],[153.5,4.5],[154,7.2],[154.5,6],[155,8.2],[155,4.2],[155.5,3.5],[153.5,2.7],[154,6.7]];

var cXdel5 = [[0.4,-0.2],[1.3,0.6],[1.8,0.9],[2.6,2.3],[3.1,-0.4],[4.4,0.2],[5.5,0.7],[6.3,-0.6],[7.4,0.1],[8.7,0.4],[9.2,1.3],[9.9,0.5],[10.5,1.8],[11.8,-0.1],[12.3,0.4],[13.6,0.1],[14.7,1.1],[15.1,0.4],[16,2.2],[16.6,0.1],[17.3,0.2],[18.4,-0.9],[19.7,-0.2],[21,-0.6],[22.1,0.1],[23.4,0.7],[23.9,-0.7],[30.8,-0.2],[32,-0.4],[36.8,0.2],[38.1,0.1],[39,0.3],[40.5,-0.1],[41.8,-0.2],[43.1,2],[43.6,-0.4],[44.6,-0.6],[45.5,0.2],[46.4,-0.9],[47.3,1.1],[47.9,-1.2],[48.2,4.6],[48.6,-0.2],[49.7,-0.6],[50.5,-0.1],[51.6,0.2],[52.3,-0.2],[53.4,0.3],[54.7,0.1],[56,0],
    [63,-0.2],[64.5,0.1],[65.7,0.3],[67,0],[68.1,0.3],[69.4,-0.2],[70.3,-0.5],[71.3,-0.1],[72.2,0.3],[73.1,-0.4],[73.7,1.4],[74.4,-0.8],[75.5,0.1],[76.8,0.2],[78,0.1],[79.9,0.2],[84.2,0.3],[84.7,-1.2],[86.6,0.4],[92.4,1.1],[93.3,0.4],[96.1,0.5],[99.4,0.1],[100.2,-0.7],[101.7,0.3],[102.6,1.1],[103.9,0],[105.7,-1.1],[107.6,1.4],[108.7,0.3],[110,0.1],[111.8,0.3],[114.5,0.1],[117.9,0.6],[119.2,0.3],[122.8,0.4],[125.2,0.5],
    [128.4,1.1],[129.3,0.1],[130.2,0.3],[131.5,0],[132.6,0.6],[133.9,0.9],[134.8,0.1],[135.7,0.4],[136.6,0.4],[137.6,-0.1],[138.5,0.2],[140,0.6],[146.8,2.5],[155.1,1.8],[152.9,0.1],[155.4,-0.4],[153.2,-2.4],
    [148.6,5.6],[149.5,6.9],[150.5,5.3],[151.4,6.7],[151.8,5.9],[152.3,7.8],[152.9,5.1],[153.2,8],[153.6,6.7],[153.8,5.7],[154.1,4.7],[154.1,7.1],[154.3,4.1],[154.7,5.6],[153.2,6.2]];

var cXdel6 = [[0.6,0],[1.8,-0.3],[3,0.2],[4.3,0.5],[5.5,-0.2],[6.8,-1.2],[7.5,0.3],[8.5,-1.1],[9.3,0],[10.5,0.7],[11.8,-0.3],[12.5,0.3],[13.5,0.7],[15,0.5],[16,-0.1],[17.5,0.7],[18.5,0],[19.3,0.3],[20.5,0.4],[21.7,0.2],[23,0.7],[24.2,-0.4],[30.4,0.5],[32.9,0.1],[37.9,0.3],[39.9,0.2],[40.9,0],[42.4,-0.2],[44.1,2.6],[44.9,0.3],[46.6,-0.3],[47.9,-0.9],[49.1,2.8],[49.9,-0.2],[50.9,0.2],[51.6,-1],[52.8,0],[54,0.5],[55.3,-0.2],[56.6,-0.7],
    [62.8,0],[64.8,0.3],[66.6,-0.2],[67.8,0.3],[69,-0.3],[70.3,-0.6],[71.5,-1.3],[72.8,0.2],[74,0.5],[75.3,0.3],[77.7,0.3],[80.2,0.2],[85.1,0],[87.6,1.7],[92.7,-0.5],[93.9,0.3],[97.1,-0.2],[101.3,0.9],[102.5,0.5],[104.5,-0.2],[106.3,0],[107.6,0.7],[108.8,-0.3],[111.3,0.3],[113,-0.2],[115.5,0.2],[117,0],[120,0.7],[121.2,0.2],[123.7,0.5],[126.9,0.9],
    [129.9,0.1],[131.2,0.3],[132.9,-0.2],[134.4,0.1],[135.4,-0.3],[136.9,0],[137.9,-0.7],[139.4,-0.2],[141.1,-0.4],[148.6,0],[152.8,-0.3],[153.5,-1.2],[154.3,-3.3],
    [149.8,7.2],[151,7.4],[152.3,6.8],[152.8,6.1],[153.3,7.4],[153.5,5.5],[153.8,6.5],[154.3,4.5],[154.8,5.8],[155.3,4.3],[155.8,3],[154.8,7.2],[154.3,5]];

var cXdel7 = [[1,-0.2],[2.2,0.3],[3.5,0.7],[4.7,0],[6,-0.3],[7.2,1.1],[8.5,0.2],[9.7,-0.2],[10.9,0.5],[12.2,0.7],[13.4,0.4],[14.7,0],[15.9,-0.7],[17.2,-1.2],[18.4,0.3],[20.9,0.2],[22.6,0],[30.8,0.7],[32.1,-0.2],[37.1,0.2],[39.1,0.4],[40,0.7],[41.5,1],[42.5,0.2],[44,-0.3],[45,-0.8],[45.8,0.5],[47,0.7],[48.3,-0.2],[49.5,1],[50.7,0.2],[52,0.3],[53.9,0.1],[55.7,-0.2],
    [63.2,0],[64.4,-0.2],[65.7,0.3],[67.4,0.6],[68.9,0.2],[70.6,1.3],[71.9,0.3],[73.1,0.2],[74.9,0.3],[76.9,0.1],[79.4,0.2],[85.6,-0.2],[86.8,0.7],[92.3,-0.8],[93,0.8],[94.8,0.2],[98,0.3],[101.2,-0.8],[102.2,0],[103.7,-1.1],[104.7,1.3],[106.7,0.3],[107.9,1.5],[109.2,1.7],[110.4,-0.2],[112.9,-1.2],[114.7,0],[117.2,0.2],[120.4,0.3],[122.9,0.5],[125.4,1],
    [127.1,0.3],[128.6,0.7],[130.3,0.5],[132.1,0.7],[134.1,0.7],[136.1,0.5],[137.8,0.7],[139.6,0.6],[141,0.7],[150.2,1],[151.5,-0.9],[154,-1],[153.5,0.3],
    [149.7,6],[151.2,4.8],[151.7,6],[152.2,5.8],[152.7,6.5],[153.2,3.3],[153.5,2.3],[153.7,5.2],[154.2,7.7],[154.2,4.5],[154.7,7],[154.7,5.1],[155.2,4.2],[153.7,2]];

var blackSets = [hXdel1, hXdel2, hXdel3, hXdel4, hXdel5, hXdel6, hXdel7, hXdel8,
    cXdel1, cXdel2, cXdel3, cXdel4, cXdel5, cXdel6, cXdel7];

var grayPoints = [];
grayColumns.forEach(function (col) {
    col[1].forEach(function (v) { grayPoints.push([col[0], v]); });
});

// layout of the 5 x 3 facets
var colLeft = [113, 492, 871];
var rowTop = [44, 353, 662, 971, 1279];
var W = 309, H = 219;
var FONT = '"Liberation Sans", Arial, Helvetica, sans-serif';

var grids = [], xAxes = [], yAxes = [], series = [], graphics = [];

function gridLines() {
    var d = [];
    var major = { width: 1.6, color: '#e4e8ec', type: 'solid' };
    var minor = { width: 1, color: '#eef0f3', type: 'solid' };
    xTicks.forEach(function (v) { d.push({ xAxis: v, lineStyle: major }); });
    xMinor.forEach(function (v) { d.push({ xAxis: v, lineStyle: minor }); });
    yTicks.forEach(function (v) { d.push({ yAxis: v, lineStyle: major }); });
    yMinor.forEach(function (v) { d.push({ yAxis: v, lineStyle: minor }); });
    return d;
}

panelNames.forEach(function (name, i) {
    var left = colLeft[i % 3], top = rowTop[Math.floor(i / 3)];
    grids.push({ left: left, top: top, width: W, height: H, show: true,
        backgroundColor: '#ffffff', borderWidth: 0 });
    xAxes.push({
        type: 'value', gridIndex: i, min: -7.8, max: 163.2,
        axisLine: { show: false },
        axisTick: { show: true, length: 7, customValues: xTicks, lineStyle: { color: '#333', width: 1.3 } },
        axisLabel: { customValues: xTicks, fontSize: 25, color: '#4d4d4d', margin: 12, fontFamily: FONT },
        splitLine: { show: false }
    });
    yAxes.push({
        type: 'value', gridIndex: i, min: -10.9, max: 10.9,
        axisLine: { show: false },
        axisTick: { show: true, length: 7, customValues: yTicks, lineStyle: { color: '#333', width: 1.3 } },
        axisLabel: { customValues: yTicks, fontSize: 22, color: '#4d4d4d', margin: 14, fontFamily: FONT },
        splitLine: { show: false }
    });
    series.push({
        type: 'scatter', xAxisIndex: i, yAxisIndex: i, data: [], silent: true,
        markLine: { silent: true, symbol: 'none', z: 1, label: { show: false }, animation: false,
            lineStyle: { type: 'solid' }, data: gridLines() }
    });
    series.push({
        type: 'scatter', xAxisIndex: i, yAxisIndex: i, data: grayPoints, z: 2,
        symbolSize: 4.4, itemStyle: { color: '#bdbdbd', opacity: 1 }, silent: true
    });
    series.push({
        type: 'scatter', xAxisIndex: i, yAxisIndex: i, data: blackSets[i], z: 4,
        symbolSize: 4.2, itemStyle: { color: '#000000', opacity: 1 }, silent: true,
        markLine: { silent: true, symbol: 'none', z: 3, label: { show: false }, animation: false,
            lineStyle: { color: '#4a4aa8', width: 1.2, type: 'solid' },
            data: [{ xAxis: breakpoints[i] }] }
    });
    graphics.push({
        type: 'rect', z: 100, silent: true,
        shape: { x: left, y: top, width: W, height: H },
        style: { fill: 'none', stroke: '#333333', lineWidth: 1.3 }
    });
    graphics.push({
        type: 'text', z: 100, silent: true, x: left + W / 2, y: top - 21,
        style: { text: name, fontSize: 28, fontFamily: FONT, fill: '#000', align: 'center', verticalAlign: 'middle' }
    });
});

graphics.push({
    type: 'text', z: 100, silent: true, x: 29, y: 775, rotation: Math.PI / 2,
    style: {
        text: '{a|normalized log}{b|2}{a|(human read counts / chimp read counts)}',
        align: 'center', verticalAlign: 'middle', fill: '#000',
        rich: {
            a: { fontSize: 36, fontFamily: FONT, lineHeight: 40, fill: '#000' },
            b: { fontSize: 24, fontFamily: FONT, lineHeight: 24, verticalAlign: 'bottom', fill: '#000' }
        }
    }
});
graphics.push({
    type: 'text', z: 100, silent: true, x: 648, y: 1563,
    style: { text: 'chrX coordinates (Mb)', fontSize: 35, fontFamily: FONT, fill: '#000',
        align: 'center', verticalAlign: 'middle' }
});

var myChart = echarts.init(document.getElementById('container'), null, { renderer: 'canvas' });
myChart.setOption({
    animation: false,
    backgroundColor: '#ffffff',
    grid: grids,
    xAxis: xAxes,
    yAxis: yAxes,
    series: series,
    graphic: graphics
});
window.addEventListener('resize', myChart.resize);
</script>
</body>
</html>
